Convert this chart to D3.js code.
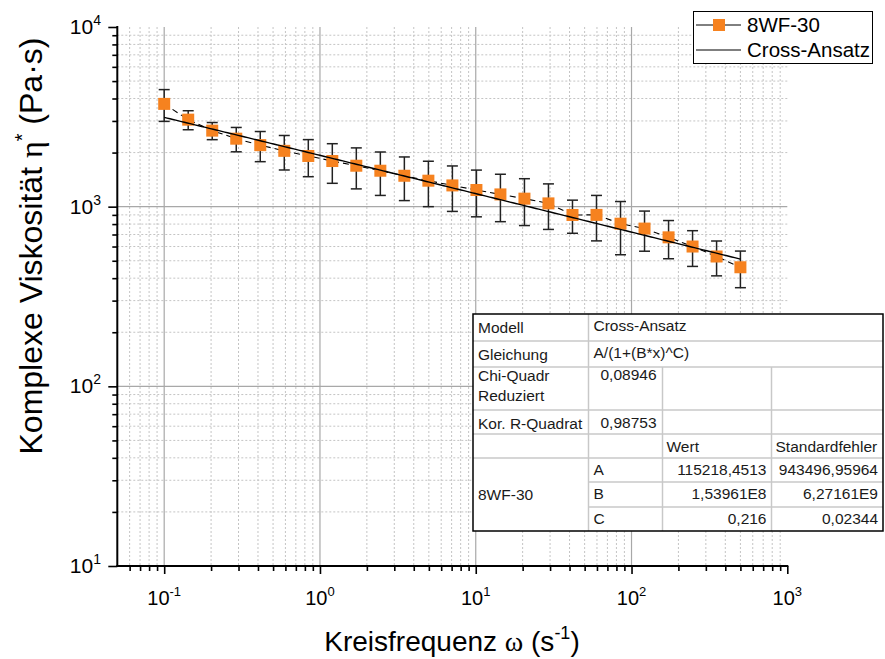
<!DOCTYPE html>
<html>
<head>
<meta charset="utf-8">
<script src="https://cdn.jsdelivr.net/npm/d3@7"></script>
<style>
  html, body { margin: 0; padding: 0; background: #fff; }
  svg { display: block; font-family: "Liberation Sans", Arial, sans-serif; }
</style>
</head>
<body>
<svg id="chart" width="885" height="659"></svg>
<script>
// Angular frequency (1/s) of each measured point
const freq = [0.1, 0.1426, 0.2034, 0.2901, 0.4137, 0.59, 0.8415, 1.2, 1.711, 2.441,
              3.481, 4.965, 7.081, 10.1, 14.4, 20.54, 29.29, 41.78, 59.58, 84.98,
              121.2, 172.9, 246.5, 351.6, 500];
// Complex viscosity (Pa·s) and its standard deviation
const eta = [3733, 3050, 2650, 2390, 2200, 2045, 1915, 1795, 1690, 1585,
             1486, 1395, 1313, 1238, 1170, 1108, 1043, 899, 900, 804,
             755, 675, 600, 528, 460];
const etaErr = [750, 370, 290, 370, 420, 445, 447, 446, 434, 430,
                405, 395, 372, 360, 345, 323, 296, 188, 255, 264,
                190, 162, 135, 116, 106];

// Cross model fit parameters
const fitA = 115218.4513, fitB = 1.53961e8, fitC = 0.216;

// Axis decades and their exponent labels
const xDecades = [0.1, 1, 10, 100, 1000];
const xExp = ["-1", "0", "1", "2", "3"];
const yDecades = [10, 100, 1000, 10000];
const yExp = ["1", "2", "3", "4"];

// Fit summary table contents
const tableTop = [["Modell", "Cross-Ansatz"], ["Gleichung", "A/(1+(B*x)^C)"]];
const tableStats = [[["Chi-Quadr", "Reduziert"], "0,08946"], [["Kor. R-Quadrat"], "0,98753"]];
const tableHead = ["Wert", "Standardfehler"];
const paramNames = ["A", "B", "C"];
const paramValues = ["115218,4513", "1,53961E8", "0,216"];
const paramErrors = ["943496,95964", "6,27161E9", "0,02344"];
const seriesName = "8WF-30";
const fitName = "Cross-Ansatz";

const svg = d3.select("#chart");
const L = 117.3, R = 787.3, T = 27, B = 566;

const x = d3.scaleLog().domain([0.05, 1000]).range([L, R]);
const y = d3.scaleLog().domain([10, 10000]).range([B, T]);

const orange = "#F6821F";

// minor tick values
const xMinor = [];
[0.01, 0.1, 1, 10, 100].forEach(d => { for (let k = 2; k <= 9; k++) { const v = d * k; if (v > 0.05 && v < 1000) xMinor.push(v); } });
const yMinor = [];
[10, 100, 1000].forEach(d => { for (let k = 2; k <= 9; k++) yMinor.push(d * k); });

// grid
const grid = svg.append("g");
grid.selectAll(".xmg").data(xMinor).join("line")
  .attr("x1", d => x(d)).attr("x2", d => x(d)).attr("y1", T).attr("y2", B)
  .attr("stroke", "#c4c4c4").attr("stroke-width", 1).attr("stroke-dasharray", "2,2");
grid.selectAll(".ymg").data(yMinor).join("line")
  .attr("x1", L).attr("x2", R).attr("y1", d => y(d)).attr("y2", d => y(d))
  .attr("stroke", "#c4c4c4").attr("stroke-width", 1).attr("stroke-dasharray", "2,2");
grid.selectAll(".xMg").data(xDecades.slice(0, 4)).join("line")
  .attr("x1", d => x(d)).attr("x2", d => x(d)).attr("y1", T).attr("y2", B)
  .attr("stroke", "#a8a8a8").attr("stroke-width", 1.2);
grid.selectAll(".yMg").data([100, 1000]).join("line")
  .attr("x1", L).attr("x2", R).attr("y1", d => y(d)).attr("y2", d => y(d))
  .attr("stroke", "#a8a8a8").attr("stroke-width", 1.2);

// axes
const xAxis = d3.axisBottom(x).tickValues(xDecades).tickSize(8).tickFormat("");
const xAxisMinor = d3.axisBottom(x).tickValues(xMinor).tickSize(5).tickFormat("");
const yAxis = d3.axisLeft(y).tickValues(yDecades).tickSize(9).tickFormat("");
const yAxisMinor = d3.axisLeft(y).tickValues(yMinor).tickSize(5).tickFormat("");

function styleAxis(g) {
  g.select(".domain").remove();
  g.selectAll("line").attr("stroke", "#000").attr("stroke-width", 1.6);
}
svg.append("g").attr("transform", `translate(0,${B})`).call(xAxis).call(styleAxis);
svg.append("g").attr("transform", `translate(0,${B})`).call(xAxisMinor).call(styleAxis);
svg.append("g").attr("transform", `translate(${L},0)`).call(yAxis).call(styleAxis);
svg.append("g").attr("transform", `translate(${L},0)`).call(yAxisMinor).call(styleAxis);
svg.append("line").attr("x1", L - 1).attr("x2", R + 1).attr("y1", B).attr("y2", B)
  .attr("stroke", "#000").attr("stroke-width", 2);
svg.append("line").attr("x1", L).attr("x2", L).attr("y1", T - 1).attr("y2", B + 1)
  .attr("stroke", "#000").attr("stroke-width", 2);

// tick labels
const xl = svg.append("g").selectAll("text").data(xDecades).join("text")
  .attr("x", d => x(d)).attr("y", 605).attr("text-anchor", "middle")
  .attr("font-size", 20).attr("fill", "#000");
xl.append("tspan").text("10");
xl.append("tspan").attr("dy", -9).attr("font-size", 13).text((d, i) => xExp[i]);

const yl = svg.append("g").selectAll("text").data(yDecades).join("text")
  .attr("x", 101).attr("y", d => y(d) + 7).attr("text-anchor", "end")
  .attr("font-size", 21).attr("fill", "#000");
yl.append("tspan").text("10");
yl.append("tspan").attr("dy", -9).attr("font-size", 14).text((d, i) => yExp[i]);

// axis titles
const xt = svg.append("text").attr("x", 452).attr("y", 651).attr("text-anchor", "middle")
  .attr("font-size", 28).attr("fill", "#000");
xt.append("tspan").text("Kreisfrequenz ");
xt.append("tspan").attr("font-family", "Liberation Serif, serif").text("ω");
xt.append("tspan").text(" (s");
xt.append("tspan").attr("dy", -12).attr("font-size", 18).text("-1");
xt.append("tspan").attr("dy", 12).text(")");

const yt = svg.append("text").attr("transform", "translate(42,246) rotate(-90)")
  .attr("text-anchor", "middle").attr("font-size", 32).attr("fill", "#000");
yt.append("tspan").text("Komplexe Viskosität ");
yt.append("tspan").attr("font-family", "Liberation Serif, serif").text("η");
yt.append("tspan").attr("dy", -13).attr("font-size", 20).text("*");
yt.append("tspan").attr("dy", 13).text(" (Pa·s)");

// data
const pts = freq.map((f, i) => ({ f, v: eta[i], e: etaErr[i] }));

// dashed connecting line
svg.append("path").datum(pts)
  .attr("d", d3.line().x(d => x(d.f)).y(d => y(d.v)))
  .attr("fill", "none").attr("stroke", "#000").attr("stroke-width", 1.1)
  .attr("stroke-dasharray", "6,4");

// error bars
const eb = svg.append("g").attr("stroke", "#222").attr("stroke-width", 1.5);
eb.selectAll(".v").data(pts).join("line")
  .attr("x1", d => x(d.f)).attr("x2", d => x(d.f))
  .attr("y1", d => y(d.v + d.e)).attr("y2", d => y(d.v - d.e));
eb.selectAll(".t").data(pts).join("line")
  .attr("x1", d => x(d.f) - 5.5).attr("x2", d => x(d.f) + 5.5)
  .attr("y1", d => y(d.v + d.e)).attr("y2", d => y(d.v + d.e));
eb.selectAll(".b").data(pts).join("line")
  .attr("x1", d => x(d.f) - 5.5).attr("x2", d => x(d.f) + 5.5)
  .attr("y1", d => y(d.v - d.e)).attr("y2", d => y(d.v - d.e));

// markers
svg.append("g").selectAll("rect").data(pts).join("rect")
  .attr("x", d => x(d.f) - 6).attr("y", d => y(d.v) - 6)
  .attr("width", 12).attr("height", 12).attr("fill", orange);

// Cross model curve
const fitX = d3.range(0, 201).map(i => Math.pow(10, Math.log10(freq[0]) + i / 200 * (Math.log10(freq[freq.length - 1]) - Math.log10(freq[0]))));
const fitPts = fitX.map(f => ({ f, v: fitA / (1 + Math.pow(fitB * f, fitC)) }));
svg.append("path").datum(fitPts)
  .attr("d", d3.line().x(d => x(d.f)).y(d => y(d.v)))
  .attr("fill", "none").attr("stroke", "#000").attr("stroke-width", 1.4);

// legend
const lg = svg.append("g");
lg.append("rect").attr("x", 693.5).attr("y", 11.5).attr("width", 179).attr("height", 52)
  .attr("fill", "#fff").attr("stroke", "#000").attr("stroke-width", 1);
lg.append("line").attr("x1", 696).attr("x2", 741).attr("y1", 25).attr("y2", 25)
  .attr("stroke", "#000").attr("stroke-width", 1);
lg.append("rect").attr("x", 713).attr("y", 19).attr("width", 12).attr("height", 12)
  .attr("fill", orange);
lg.append("text").attr("x", 747).attr("y", 32).attr("font-size", 20.5).text(seriesName);
lg.append("line").attr("x1", 696).attr("x2", 741).attr("y1", 50).attr("y2", 50)
  .attr("stroke", "#000").attr("stroke-width", 1.2);
lg.append("text").attr("x", 747).attr("y", 57).attr("font-size", 20.5).text(fitName);

// fit summary table
const tb = svg.append("g").attr("font-size", 15.5).attr("fill", "#1a1a1a");
const tx0 = 473, tx1 = 588.5, tx2 = 662.5, tx3 = 771.5, tx4 = 883;
const rows = [314, 341, 367, 410, 434, 458, 482, 507, 531];
tb.append("rect").attr("x", tx0).attr("y", rows[0]).attr("width", tx4 - tx0).attr("height", rows[8] - rows[0])
  .attr("fill", "#fff");
const gl = tb.append("g").attr("stroke", "#c8c8c8").attr("stroke-width", 1.5);
// horizontal inner lines
[1, 2, 3, 4, 5].forEach(i => gl.append("line").attr("x1", tx0).attr("x2", tx4).attr("y1", rows[i]).attr("y2", rows[i]));
[6, 7].forEach(i => gl.append("line").attr("x1", tx1).attr("x2", tx4).attr("y1", rows[i]).attr("y2", rows[i]));
// vertical inner lines
gl.append("line").attr("x1", tx1).attr("x2", tx1).attr("y1", rows[0]).attr("y2", rows[8]);
gl.append("line").attr("x1", tx2).attr("x2", tx2).attr("y1", rows[2]).attr("y2", rows[8]);
gl.append("line").attr("x1", tx3).attr("x2", tx3).attr("y1", rows[2]).attr("y2", rows[8]);
tb.append("rect").attr("x", tx0).attr("y", rows[0]).attr("width", tx4 - tx0).attr("height", rows[8] - rows[0])
  .attr("fill", "none").attr("stroke", "#000").attr("stroke-width", 1.5);

tableTop.forEach((r, i) => {
  tb.append("text").attr("x", tx0 + 5).attr("y", rows[i] + 19).text(r[0]);
  tb.append("text").attr("x", tx1 + 5).attr("y", rows[i] + 17).text(r[1]);
});
tableStats.forEach((r, i) => {
  const t = tb.append("text").attr("x", tx0 + 5).attr("y", rows[2 + i] + (r[0].length > 1 ? 14 : 19));
  r[0].forEach((s, j) => t.append("tspan").attr("x", tx0 + 5).attr("dy", j ? 20 : 0).text(s));
  tb.append("text").attr("x", tx2 - 6).attr("y", rows[2 + i] + (r[0].length > 1 ? 13 : 18))
    .attr("text-anchor", "end").text(r[1]);
});
tableHead.forEach((h, i) => tb.append("text").attr("x", [tx2, tx3][i] + 4).attr("y", rows[4] + 18).text(h));
tb.append("text").attr("x", tx0 + 5).attr("y", rows[6] + 18).text(seriesName);
paramNames.forEach((p, i) => {
  tb.append("text").attr("x", tx1 + 5).attr("y", rows[5 + i] + 17).text(p);
  tb.append("text").attr("x", tx3 - 5).attr("y", rows[5 + i] + 17).attr("text-anchor", "end").text(paramValues[i]);
  tb.append("text").attr("x", tx4 - 5).attr("y", rows[5 + i] + 17).attr("text-anchor", "end").text(paramErrors[i]);
});
</script>
</body>
</html>
